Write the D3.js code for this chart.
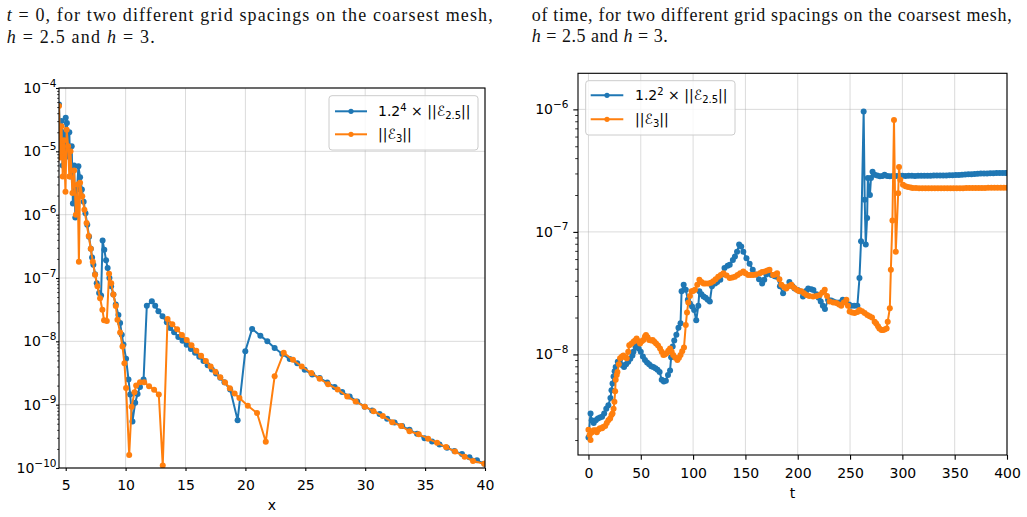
<!DOCTYPE html>
<html><head><meta charset="utf-8">
<script src="https://cdn.jsdelivr.net/npm/d3@7"></script>
<style>body{margin:0;background:#fff}svg{display:block}</style>
</head><body>
<svg id="c" width="1027" height="517"></svg>
<script>
// ---------- DATA ----------
// Left panel: error along x at t = 0
const leftBlue = [ // 1.2^4 x ||E_2.5||
[4.44,5.5e-5],[4.55,1.2e-5],[4.65,3.0e-5],[4.75,6e-6],[4.85,2.0e-5],[4.95,8e-6],[5.0,3.4e-5],[5.1,2.8e-5],[5.2,9e-6],[5.3,2.0e-5],
[5.4,4e-6],[5.5,1.2e-5],[5.6,1.5e-6],[5.7,6e-6],[5.8,9e-7],[5.95,2.5e-6],[6.06,5.8e-6],[6.2,3.9e-6],[6.35,2.5e-6],[6.5,1.6e-6],
[6.65,1.05e-6],[6.8,6.9e-7],[6.95,4.5e-7],[7.1,2.9e-7],[7.2,2.1e-7],[7.31,1.62e-7],[7.45,1.15e-7],[7.59,8.3e-8],[7.79,5.8e-8],[7.95,5.3e-8],
[8.08,3.9e-7],[8.22,2.8e-7],[8.37,1.9e-7],[8.5,1.44e-7],[8.65,1.0e-7],[8.79,7.4e-8],[8.98,5.5e-8],[9.18,3.8e-8],[9.4,2.6e-8],[9.54,1.95e-8],
[9.68,1.27e-8],[9.82,8.9e-9],[10.04,5.3e-9],[10.24,2.5e-9],[10.38,1.45e-9],[10.57,5.4e-10],[10.8,1.07e-9],[11.0,1.48e-9],[11.2,1.9e-9],[11.5,2.5e-9],
[11.77,3.66e-8],[12.19,4.3e-8],[12.47,3.66e-8],[12.74,2.98e-8],[13.08,2.48e-8],[13.44,2.0e-8],[13.72,1.62e-8],[14.05,1.39e-8],[14.4,1.17e-8],[14.75,1.02e-8],
[15.1,8.8e-9],[15.45,7.6e-9],[15.8,6.6e-9],[16.15,5.7e-9],[16.5,4.9e-9],[16.85,4.2e-9],[17.2,3.6e-9],[17.55,3.1e-9],[17.9,2.65e-9],[18.25,2.25e-9],
[18.73,1.73e-9],[19.35,5.7e-10],[19.99,7.0e-9],[20.56,1.57e-8],[21.25,1.23e-8],[21.83,1.0e-8],[22.44,7.85e-9],[23.08,6.3e-9],[23.7,5.25e-9],[24.33,4.5e-9],
[24.95,3.55e-9],[25.58,3.0e-9],[26.2,2.63e-9],[26.83,2.24e-9],[27.45,1.9e-9],[28.08,1.58e-9],[28.7,1.35e-9],[29.33,1.12e-9],[29.95,9.3e-10],[30.58,8.1e-10],
[31.2,7.1e-10],[31.83,6.0e-10],[32.45,5.25e-10],[33.08,4.6e-10],[33.7,4.0e-10],[34.33,3.47e-10],[34.95,2.95e-10],[35.58,2.63e-10],[36.2,2.34e-10],[36.83,2.09e-10],
[37.45,1.86e-10],[38.08,1.66e-10],[38.7,1.48e-10],[39.33,1.32e-10],[39.95,1.17e-10]
];
const leftOrange = [ // ||E_3||
[4.44,5.2e-5],[4.55,8e-6],[4.65,2.5e-5],[4.75,4e-6],[4.85,1.5e-5],[4.98,2.3e-6],[5.08,2.2e-5],[5.2,1.2e-5],[5.3,4e-6],[5.4,1.0e-5],
[5.56,2.2e-6],[5.7,5e-6],[5.85,1.0e-6],[6.0,3e-6],[6.1,1.8e-7],[6.2,3.2e-6],[6.38,1.95e-6],[6.56,1.2e-6],[6.74,7.4e-7],[6.92,4.6e-7],
[7.09,2.9e-7],[7.26,1.8e-7],[7.45,1.13e-7],[7.65,7.4e-8],[7.87,4.8e-8],[8.06,3.16e-8],[8.2,2.15e-8],[8.43,2.1e-8],[8.62,1.17e-7],[8.8,8.3e-8],
[8.98,5.5e-8],[9.18,3.6e-8],[9.32,2.2e-8],[9.54,1.38e-8],[9.74,8.3e-9],[9.9,4.5e-9],[10.04,1.83e-9],[10.3,1.6e-10],[10.5,9.3e-10],[10.74,1.57e-9],
[10.88,2.0e-9],[11.2,2.25e-9],[11.55,2.25e-9],[11.96,1.95e-9],[12.38,1.72e-9],[12.77,1.45e-9],[13.1,1.1e-10],[13.5,2.25e-8],[13.9,1.86e-8],[14.3,1.55e-8],
[14.7,1.26e-8],[15.1,1.05e-8],[15.5,8.7e-9],[15.9,7.1e-9],[16.3,5.9e-9],[16.7,4.9e-9],[17.1,4.0e-9],[17.5,3.3e-9],[17.9,2.7e-9],[18.3,2.24e-9],
[18.7,1.82e-9],[19.1,1.5e-9],[19.5,1.27e-9],[20.2,9.6e-10],[20.97,7.4e-10],[21.7,2.6e-10],[22.44,2.8e-9],[23.2,6.6e-9],[23.97,5.1e-9],[24.7,4.0e-9],
[25.5,3.16e-9],[26.2,2.57e-9],[26.9,2.1e-9],[27.7,1.74e-9],[28.5,1.35e-9],[29.2,1.12e-9],[29.97,9.3e-10],[30.7,7.9e-10],[31.47,6.6e-10],[32.25,5.3e-10],
[33.0,4.6e-10],[33.7,3.8e-10],[34.47,3.4e-10],[35.25,2.9e-10],[36.0,2.5e-10],[36.75,2.14e-10],[37.5,1.82e-10],[38.3,1.51e-10],[39.0,1.29e-10],[39.94,1.17e-10]
];
// Right panel: error as a function of time
const rightBlue = [ // 1.2^2 x ||E_2.5||
[0,2.1e-9],[2,3.3e-9],[3,2.9e-9],[5,2.75e-9],[7,2.9e-9],[9,3.0e-9],[11,3.05e-9],[13,3.1e-9],[15,3.3e-9],[17,3.6e-9],
[19,3.85e-9],[21,4.4e-9],[22,5.1e-9],[23,5.8e-9],[24,6.6e-9],[25,7.3e-9],[26,7.9e-9],[28,8.7e-9],[30,8.9e-9],[32,8.2e-9],
[34,7.9e-9],[36,8.3e-9],[38,8.7e-9],[40,9.2e-9],[42,9.8e-9],[43,1.05e-8],[45,1.15e-8],[46,1.19e-8],[48,1.12e-8],[50,1.05e-8],
[52,9.6e-9],[54,9.0e-9],[56,8.6e-9],[58,8.3e-9],[60,8.0e-9],[62,7.9e-9],[64,7.7e-9],[66,7.5e-9],[68,7.2e-9],[70,6.2e-9],
[72,6.0e-9],[74,6.1e-9],[76,6.8e-9],[78,7.4e-9],[79,9.5e-9],[80.5,1.16e-8],[82,1.3e-8],[84,1.45e-8],[86,1.65e-8],[88,1.8e-8],
[89,3.27e-8],[91,3.7e-8],[93,3.37e-8],[95,2.8e-8],[97,2.6e-8],[99,2.46e-8],[101,2.3e-8],[103,1.9e-8],[105,2.5e-8],[106,3.27e-8],
[108,3.1e-8],[110,2.97e-8],[112,2.9e-8],[114,2.8e-8],[116,2.7e-8],[118,3.6e-8],[121,3.8e-8],[123,3.9e-8],[126,4.07e-8],[128,4.5e-8],
[130,5.07e-8],[133,5.3e-8],[135,5.4e-8],[138,5.9e-8],[140,6.3e-8],[142,6.9e-8],[144,7.9e-8],[146,7.6e-8],[148,6.9e-8],[151,6.1e-8],
[154,5.5e-8],[157,4.9e-8],[160,4.5e-8],[163,4.1e-8],[166,3.8e-8],[168,4.07e-8],[170,4.5e-8],[172,4.77e-8],[175,4.45e-8],[178,4.35e-8],
[180,4.3e-8],[183,3.6e-8],[186,3.16e-8],[189,3.5e-8],[192,3.9e-8],[195,3.6e-8],[197,3.45e-8],[200,3.35e-8],[202,3.27e-8],[205,2.97e-8],
[208,3.3e-8],[210,3.45e-8],[213,3.4e-8],[215,3.35e-8],[218,3.1e-8],[220,2.9e-8],[222,2.7e-8],[224,2.5e-8],[226,2.35e-8],[229,2.8e-8],
[232,2.75e-8],[234,2.7e-8],[237,2.65e-8],[240,2.65e-8],[243,2.8e-8],[246,2.7e-8],[249,2.55e-8],[251,2.5e-8],[254,2.5e-8],[257,2.5e-8],
[259,4.2e-8],[260.5,8.4e-8],[263,9.6e-7],[264,1.83e-7],[265,7.9e-8],[266.3,1.3e-7],[267,2.75e-7],[269,2.0e-7],[270,2.75e-7],[271.5,3.1e-7],
[273.5,2.93e-7],[276,2.88e-7],[278.5,2.84e-7],[281,2.86e-7],[283,2.93e-7],[285.5,2.86e-7],[288,2.84e-7],[291,2.86e-7],[294,2.86e-7],[297,2.87e-7],
[300,2.87e-7],[303,2.86e-7],[306,2.87e-7],[309,2.87e-7],[312,2.86e-7],[315,2.87e-7],[318,2.87e-7],[321,2.87e-7],[324,2.87e-7],[327,2.87e-7],
[330,2.88e-7],[333,2.88e-7],[336,2.88e-7],[339,2.89e-7],[342,2.89e-7],[345,2.9e-7],[348,2.9e-7],[351,2.91e-7],[354,2.92e-7],[357,2.93e-7],
[360,2.94e-7],[363,2.95e-7],[366,2.96e-7],[369,2.97e-7],[372,2.98e-7],[375,2.99e-7],[378,3.0e-7],[381,3.0e-7],[384,3.01e-7],[387,3.01e-7],
[390,3.02e-7],[393,3.02e-7],[396,3.02e-7],[399,3.03e-7],[400,3.03e-7]
];
const rightOrange = [ // ||E_3||
[0,2.43e-9],[1,2.2e-9],[2,2.0e-9],[3,2.3e-9],[5,2.4e-9],[7,2.4e-9],[8,2.32e-9],[10,2.45e-9],[11,2.5e-9],[13,2.5e-9],
[14,2.55e-9],[16,2.6e-9],[17.5,2.75e-9],[19,2.9e-9],[20.7,3.0e-9],[22,3.2e-9],[23,3.3e-9],[24,3.6e-9],[24.8,4.1e-9],[25.5,5.0e-9],
[26,6.2e-9],[27,6.8e-9],[27.7,7.2e-9],[29,8.3e-9],[30.2,9.3e-9],[32,9.6e-9],[33.4,9.8e-9],[35,9.5e-9],[36.6,9.3e-9],[38,1.05e-8],
[39,1.19e-8],[41,1.22e-8],[43,1.27e-8],[44.5,1.3e-8],[46,1.35e-8],[48,1.28e-8],[49.3,1.23e-8],[51,1.28e-8],[52.5,1.31e-8],[54,1.4e-8],
[55,1.44e-8],[56.5,1.38e-8],[58,1.31e-8],[60,1.3e-8],[61.4,1.31e-8],[63,1.27e-8],[64.6,1.23e-8],[66.5,1.18e-8],[68.4,1.12e-8],[70,1.05e-8],
[71.6,9.9e-9],[73,1.0e-8],[74.7,1.02e-8],[76.3,1.07e-8],[78,1.12e-8],[79.5,1.05e-8],[81,9.9e-9],[83,9.4e-9],[85,9.0e-9],[86.5,9.4e-9],
[88,9.9e-9],[89.6,1.06e-8],[91.3,1.14e-8],[93,1.74e-8],[94.2,2.2e-8],[95.4,2.65e-8],[97,3.0e-8],[98.6,3.27e-8],[100,3.3e-8],[101.8,3.37e-8],
[104,3.7e-8],[106,4.07e-8],[108,3.9e-8],[110,3.8e-8],[112,3.8e-8],[114.5,3.8e-8],[117,3.85e-8],[119.3,3.95e-8],[121.5,4.1e-8],[124,4.3e-8],
[126.5,4.45e-8],[129,4.6e-8],[132,4.4e-8],[135,4.2e-8],[137.5,4.25e-8],[140,4.3e-8],[142.5,4.45e-8],[145,4.6e-8],[148,4.75e-8],[150,4.6e-8],
[152.6,4.45e-8],[155,4.45e-8],[157.4,4.45e-8],[160,4.5e-8],[163.8,4.6e-8],[166,4.7e-8],[168.5,4.75e-8],[171,4.85e-8],[173,4.9e-8],[176.5,4.45e-8],
[178.5,4.5e-8],[180.3,4.6e-8],[182.5,4.1e-8],[184.4,3.7e-8],[187,3.55e-8],[189,3.45e-8],[191.5,3.6e-8],[194,3.7e-8],[196.5,3.5e-8],[199,3.37e-8],
[201,3.3e-8],[203.5,3.27e-8],[206,3.15e-8],[208.3,3.05e-8],[211,3.0e-8],[214.7,2.97e-8],[218,3.0e-8],[221,3.05e-8],[223.5,3.2e-8],[225.8,3.37e-8],
[228,3.0e-8],[230.5,2.7e-8],[234,2.65e-8],[237,2.63e-8],[239.5,2.55e-8],[241.6,2.5e-8],[244,2.65e-8],[246.5,2.8e-8],[248,2.5e-8],[249.6,2.24e-8],
[252,2.2e-8],[254.4,2.18e-8],[257,2.22e-8],[259,2.3e-8],[261.5,2.25e-8],[264,2.18e-8],[266.5,2.1e-8],[268.7,2.05e-8],[271,2.0e-8],[273.5,1.85e-8],
[275,1.79e-8],[276.7,1.7e-8],[278,1.63e-8],[280,1.58e-8],[281.5,1.58e-8],[283,1.6e-8],[285,1.63e-8],[286,1.85e-8],[288,2.38e-8],[289,4.9e-8],
[290.5,1.24e-7],[292,8.2e-7],[293.7,6.9e-8],[296,2.07e-7],[296.8,3.38e-7],[298,2.66e-7],[300.6,2.43e-7],[303,2.36e-7],[305.4,2.32e-7],[308,2.3e-7],
[310,2.28e-7],[313,2.28e-7],[316,2.27e-7],[319,2.27e-7],[322,2.27e-7],[325,2.27e-7],[328,2.27e-7],[331,2.27e-7],[334,2.27e-7],[337,2.27e-7],
[340,2.27e-7],[343,2.27e-7],[346,2.27e-7],[349,2.27e-7],[352,2.27e-7],[355,2.27e-7],[358,2.27e-7],[361,2.28e-7],[364,2.28e-7],[367,2.28e-7],
[370,2.28e-7],[373,2.28e-7],[376,2.28e-7],[379,2.28e-7],[382,2.29e-7],[385,2.29e-7],[388,2.29e-7],[391,2.29e-7],[394,2.29e-7],[397,2.29e-7],[400,2.29e-7]
];
// Tick values
const leftXTicks = [5,10,15,20,25,30,35,40];
const leftYExps = [-4,-5,-6,-7,-8,-9,-10];
const rightXTicks = [0,50,100,150,200,250,300,350,400];
const rightYExps = [-6,-7,-8];
// Captions
const leftCaption = ["t = 0, for two different grid spacings on the coarsest mesh,", "h = 2.5 and h = 3."];
const rightCaption = ["of time, for two different grid spacings on the coarsest mesh,", "h = 2.5 and h = 3."];

// ---------- DRAW ----------
const svg = d3.select('#c');
const BLUE = '#1f77b4', ORANGE = '#ff7f0e';
const FONT = 'DejaVu Sans';
svg.append('rect').attr('width',1027).attr('height',517).attr('fill','#fff');

function caption(x, y, str, len){
  const t = svg.append('text').attr('x',x).attr('y',y)
    .attr('font-family','Liberation Serif, DejaVu Serif, serif').attr('font-size',18).attr('fill','#111')
    .attr('textLength',len).attr('lengthAdjust','spacing');
  const parts = str.split(/\b([th])\b(?= =)/);
  parts.forEach((p,i)=>{
    if(!p) return;
    const s = t.append('tspan').text(p);
    if(i%2===1) s.attr('font-style','italic');
  });
}
caption(6.7, 21, leftCaption[0], 486);
caption(6.7, 42.5, leftCaption[1], 148);
caption(531.7, 20.5, rightCaption[0], 480);
caption(531.7, 42, rightCaption[1], 136);

function expLabel(sel, e){
  sel.append('tspan').text('10');
  sel.append('tspan').attr('dy',-6.5).attr('font-size',10.5).text('\u2212'+Math.abs(e));
}

function panel(o){
  const g = svg.append('g');
  const x = d3.scaleLinear().domain(o.xDomain).range([o.x0,o.x1]);
  const y = d3.scaleLog().domain(o.yDomain).range([o.y1,o.y0]);
  const yMajor = o.yExps.map(e=>Math.pow(10,e));
  g.append('g').selectAll('line').data(o.xTicks).join('line')
    .attr('x1',d=>x(d)).attr('x2',d=>x(d)).attr('y1',o.y0).attr('y2',o.y1)
    .attr('stroke','#b0b0b0').attr('stroke-opacity',0.45).attr('stroke-width',1);
  g.append('g').selectAll('line').data(yMajor).join('line')
    .attr('y1',d=>y(d)).attr('y2',d=>y(d)).attr('x1',o.x0).attr('x2',o.x1)
    .attr('stroke','#b0b0b0').attr('stroke-opacity',0.45).attr('stroke-width',1);
  svg.append('clipPath').attr('id',o.id+'clip').append('rect')
    .attr('x',o.x0).attr('y',o.y0).attr('width',o.x1-o.x0).attr('height',o.y1-o.y0);
  const dg = g.append('g').attr('clip-path',`url(#${o.id}clip)`);
  const line = d3.line().x(d=>x(d[0])).y(d=>y(d[1]));
  o.series.forEach(s=>{
    dg.append('path').datum(s.data).attr('d',line).attr('fill','none')
      .attr('stroke',s.color).attr('stroke-width',2).attr('stroke-linejoin','round');
    dg.append('g').selectAll('circle').data(s.data).join('circle')
      .attr('cx',d=>x(d[0])).attr('cy',d=>y(d[1])).attr('r',3).attr('fill',s.color);
  });
  g.append('rect').attr('x',o.x0).attr('y',o.y0).attr('width',o.x1-o.x0).attr('height',o.y1-o.y0)
    .attr('fill','none').attr('stroke','#000').attr('stroke-width',1.1);
  const xa = g.append('g').attr('transform',`translate(0,${o.y1})`)
    .call(d3.axisBottom(x).tickValues(o.xTicks).tickSize(o.tick).tickPadding(o.xPad).tickFormat(d3.format('d')));
  xa.select('.domain').remove();
  xa.selectAll('line').attr('stroke','#000').attr('stroke-width',1.1);
  xa.selectAll('text').attr('font-family',FONT).attr('font-size',14).attr('fill','#000');
  const ya = g.append('g').attr('transform',`translate(${o.x0},0)`)
    .call(d3.axisLeft(y).tickValues(yMajor).tickSize(o.tick).tickFormat(''));
  ya.select('.domain').remove();
  ya.selectAll('line').attr('stroke','#000').attr('stroke-width',1.1);
  const [lo,hi] = o.yDomain;
  const minor = [];
  for(let e=Math.floor(Math.log10(lo)); e<=Math.ceil(Math.log10(hi)); e++)
    for(let m=2;m<=9;m++){ const v=m*Math.pow(10,e); if(v>=lo && v<=hi) minor.push(v); }
  const ym = g.append('g').attr('transform',`translate(${o.x0},0)`)
    .call(d3.axisLeft(y).tickValues(minor).tickSize(o.tick*0.6).tickFormat(''));
  ym.select('.domain').remove();
  ym.selectAll('line').attr('stroke','#000').attr('stroke-width',0.8);
  o.yExps.forEach(e=>{
    const t = g.append('text').attr('x',o.yLabelX).attr('y',y(Math.pow(10,e))+5)
      .attr('text-anchor','end').attr('font-family',FONT).attr('font-size',14).attr('fill','#000');
    expLabel(t,e);
  });
  g.append('text').attr('x',(o.x0+o.x1)/2).attr('y',o.xLabelY).attr('text-anchor','middle')
    .attr('font-family',FONT).attr('font-size',14).attr('fill','#000').text(o.xLabel);
  const L = o.legend;
  g.append('rect').attr('x',L.x).attr('y',L.y).attr('width',L.w).attr('height',L.h).attr('rx',3)
    .attr('fill','#fff').attr('fill-opacity',0.8).attr('stroke','#cccccc').attr('stroke-width',1);
  o.series.forEach((s,i)=>{
    const cy = L.rows[i];
    g.append('line').attr('x1',L.lx0).attr('x2',L.lx1).attr('y1',cy).attr('y2',cy)
      .attr('stroke',s.color).attr('stroke-width',2);
    g.append('circle').attr('cx',(L.lx0+L.lx1)/2).attr('cy',cy).attr('r',2.6).attr('fill',s.color);
    const t = g.append('text').attr('x',L.tx).attr('y',cy+5).attr('font-family',FONT)
      .attr('font-size',14).attr('fill','#000');
    s.label(t);
  });
}

function labelBlue(pow){
  return t=>{
    t.append('tspan').text('1.2');
    t.append('tspan').attr('dy',-5.5).attr('font-size',10).text(pow);
    t.append('tspan').attr('dy',5.5).text(' \u00d7 ||');
    t.append('tspan').attr('font-style','italic').text('\u2130');
    t.append('tspan').attr('dy',3).attr('font-size',10).text('2.5');
    t.append('tspan').attr('dy',-3).text('||');
  };
}
function labelOrange(t){
  t.append('tspan').text('||');
  t.append('tspan').attr('font-style','italic').text('\u2130');
  t.append('tspan').attr('dy',3).attr('font-size',10).text('3');
  t.append('tspan').attr('dy',-3).text('||');
}

panel({
  id:'L', x0:59, x1:485, y0:88, y1:468,
  xDomain:[4.44,40], yDomain:[1e-10,1e-4],
  xTicks:leftXTicks, yExps:leftYExps, tick:3, xPad:9, yLabelX:56.5,
  xLabel:'x', xLabelY:510,
  series:[{data:leftBlue,color:BLUE,label:labelBlue('4')},{data:leftOrange,color:ORANGE,label:labelOrange}],
  legend:{x:329,y:95.7,w:149,h:54.3,rows:[111.3,134.3],lx0:335,lx1:367,tx:378}
});
panel({
  id:'R', x0:578, x1:1007, y0:73.3, y1:455,
  xDomain:[-10,400], yDomain:[1.51e-9,1.97e-6],
  xTicks:rightXTicks, yExps:rightYExps, tick:4.7, xPad:8, yLabelX:568.5,
  xLabel:'t', xLabelY:498,
  series:[{data:rightBlue,color:BLUE,label:labelBlue('2')},{data:rightOrange,color:ORANGE,label:labelOrange}],
  legend:{x:585.7,y:80.7,w:149.3,h:54.3,rows:[95.3,119.3],lx0:590.7,lx1:623.3,tx:635}
});
</script>
</body></html>
